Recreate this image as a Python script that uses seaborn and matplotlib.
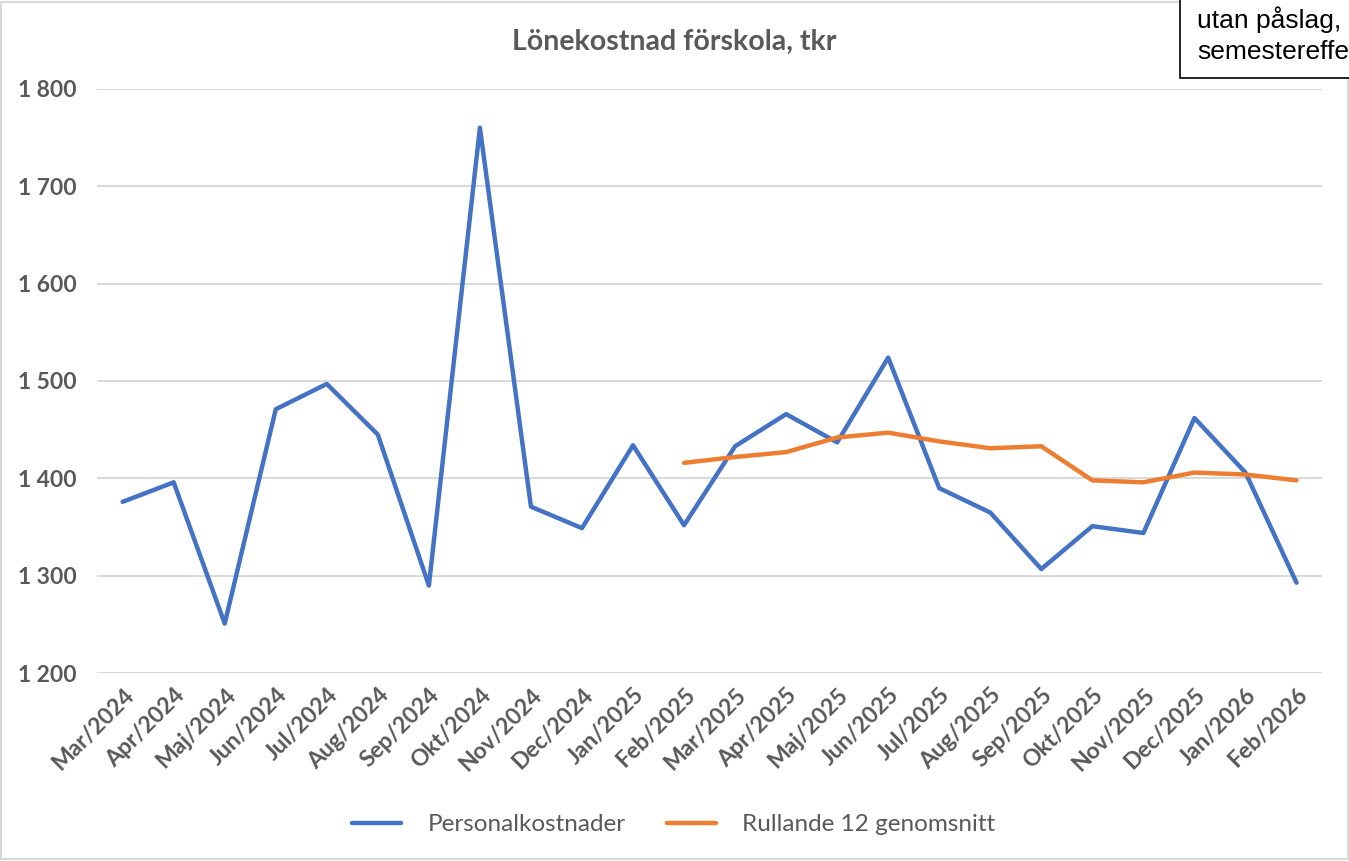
import matplotlib
matplotlib.use("Agg")
import matplotlib.pyplot as plt
from matplotlib.patches import Rectangle
from matplotlib.lines import Line2D
import numpy as np
import pandas as pd
import seaborn as sns

# Data
months = ["Mar/2024", "Apr/2024", "Maj/2024", "Jun/2024", "Jul/2024", "Aug/2024",
          "Sep/2024", "Okt/2024", "Nov/2024", "Dec/2024", "Jan/2025", "Feb/2025",
          "Mar/2025", "Apr/2025", "Maj/2025", "Jun/2025", "Jul/2025", "Aug/2025",
          "Sep/2025", "Okt/2025", "Nov/2025", "Dec/2025", "Jan/2026", "Feb/2026"]
personal = [1376, 1396, 1251, 1471, 1497, 1445, 1290, 1760, 1371, 1349, 1434, 1352,
            1433, 1466, 1437, 1524, 1390, 1365, 1307, 1351, 1344, 1462, 1406, 1293]
rullande_months = months[11:]
rullande = [1416, 1422, 1427, 1442, 1447, 1438, 1431, 1433, 1398, 1396, 1406, 1404, 1398]

series_names = ["Personalkostnader", "Rullande 12 genomsnitt"]
colors = ["#4472C4", "#ED7D31"]
y_ticks = [1200, 1300, 1400, 1500, 1600, 1700, 1800]

pos = {m: i for i, m in enumerate(months)}
df = pd.concat([
    pd.DataFrame({"x": [pos[m] for m in months], "value": personal, "serie": series_names[0]}),
    pd.DataFrame({"x": [pos[m] for m in rullande_months], "value": rullande, "serie": series_names[1]}),
])

sns.set_style("white")
plt.rcParams["font.family"] = ["Lato", "DejaVu Sans"]
text_grey = "#595959"

fig = plt.figure(figsize=(13.49, 8.61), dpi=100)
ax = fig.add_axes([0.072, 0.218, 0.908, 0.679])

sns.lineplot(data=df, x="x", y="value", hue="serie", palette=colors,
             estimator=None, sort=False, linewidth=3.2, legend=False, ax=ax)

ax.set_xlim(-0.5, len(months) - 0.5)
ax.set_ylim(1200, 1800)
ax.set_yticks(y_ticks)
ax.set_yticklabels([f"{v:,}".replace(",", " ") for v in y_ticks],
                   fontsize=16.5, fontweight="bold", color=text_grey)
ax.set_xticks(range(len(months)))
ax.set_xticklabels(months, rotation=45, ha="right", rotation_mode="anchor",
                   fontsize=16.5, fontweight="bold", color=text_grey)
ax.tick_params(axis="both", length=0)
ax.tick_params(axis="y", pad=15)
ax.tick_params(axis="x", pad=8)
ax.grid(axis="y", color="#D9D9D9", linewidth=1.4)
ax.set_axisbelow(True)
for s in ax.spines.values():
    s.set_visible(False)
ax.set_xlabel("")
ax.set_ylabel("")

fig.text(0.5, 0.951, "Lönekostnad förskola, tkr", ha="center", va="center",
         fontsize=20.5, fontweight="bold", color=text_grey)

handles = [Line2D([], [], color=c, linewidth=3.2) for c in colors]
fig.legend(handles, series_names, loc="center", bbox_to_anchor=(0.4995, 0.042), ncol=2,
           frameon=False, fontsize=17.5, labelcolor=text_grey, handlelength=2.0,
           handletextpad=1.1, columnspacing=1.7)

# outer chart border
fig.patches.append(Rectangle((0.001, 0.002), 0.998, 0.996, transform=fig.transFigure,
                             fill=False, edgecolor="#D9D9D9", linewidth=1.5))

# note box in the top right corner, cut by the picture edge as in the original
fig.patches.append(Rectangle((1180 / 1349, 1 - 78 / 861), 0.2, 0.2, transform=fig.transFigure,
                             facecolor="white", edgecolor="black", linewidth=1.2))
fig.text(1197 / 1349, 1 - 20 / 861, "utan påslag,", ha="left", va="center",
         fontsize=19, family="Liberation Sans", color="black")
fig.text(1197 / 1349, 1 - 52 / 861, "semestereffekt", ha="left", va="center",
         fontsize=19, family="Liberation Sans", color="black")

fig.savefig("out.png", dpi=100)
